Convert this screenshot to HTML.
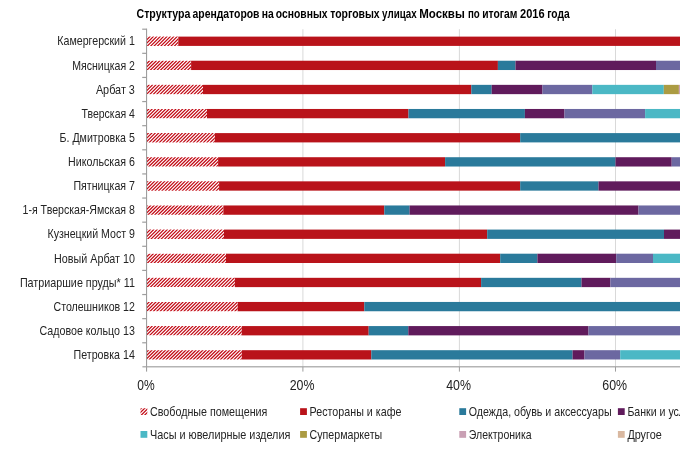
<!DOCTYPE html>
<html lang="ru"><head><meta charset="utf-8"><title>Структура арендаторов</title>
<style>html,body{margin:0;padding:0;background:#fff}svg{display:block}text{font-family:"Liberation Sans",sans-serif;fill:#242424}</style></head><body>
<svg width="700" height="451" viewBox="0 0 700 451">
<defs><clipPath id="c"><rect x="0" y="0" width="680" height="451"/></clipPath></defs>
<rect width="700" height="451" fill="#fff"/>
<g clip-path="url(#c)">
<rect x="302.4" y="29.2" width="1" height="337.7" fill="#d9d9d9"/>
<rect x="458.9" y="29.2" width="1" height="337.7" fill="#d9d9d9"/>
<rect x="615.0" y="29.2" width="1" height="337.7" fill="#d9d9d9"/>
<clipPath id="k0"><rect x="146.8" y="36.61" width="31.5" height="9.3"/></clipPath>
<path clip-path="url(#k0)" d="M136.76 46.41l10.3 -10.3M140.15 46.41l10.3 -10.3M143.54 46.41l10.3 -10.3M146.93 46.41l10.3 -10.3M150.33 46.41l10.3 -10.3M153.72 46.41l10.3 -10.3M157.11 46.41l10.3 -10.3M160.50 46.41l10.3 -10.3M163.89 46.41l10.3 -10.3M167.29 46.41l10.3 -10.3M170.68 46.41l10.3 -10.3M174.07 46.41l10.3 -10.3M177.46 46.41l10.3 -10.3" stroke="#c20c17" stroke-width="1.25" fill="none"/>
<rect x="178.3" y="36.61" width="501.7" height="9.3" fill="#b9131a"/>
<clipPath id="k1"><rect x="146.8" y="60.73" width="44.3" height="9.3"/></clipPath>
<path clip-path="url(#k1)" d="M139.77 70.53l10.3 -10.3M143.16 70.53l10.3 -10.3M146.56 70.53l10.3 -10.3M149.95 70.53l10.3 -10.3M153.34 70.53l10.3 -10.3M156.73 70.53l10.3 -10.3M160.12 70.53l10.3 -10.3M163.52 70.53l10.3 -10.3M166.91 70.53l10.3 -10.3M170.30 70.53l10.3 -10.3M173.69 70.53l10.3 -10.3M177.08 70.53l10.3 -10.3M180.48 70.53l10.3 -10.3M183.87 70.53l10.3 -10.3M187.26 70.53l10.3 -10.3M190.65 70.53l10.3 -10.3" stroke="#c20c17" stroke-width="1.25" fill="none"/>
<rect x="191.1" y="60.73" width="306.8" height="9.3" fill="#b9131a"/>
<rect x="497.9" y="60.73" width="17.6" height="9.3" fill="#2a7a9b"/>
<rect x="515.5" y="60.73" width="140.5" height="9.3" fill="#601b5c"/>
<rect x="656.0" y="60.73" width="24.0" height="9.3" fill="#6c68a1"/>
<clipPath id="k2"><rect x="146.8" y="84.85" width="56.2" height="9.3"/></clipPath>
<path clip-path="url(#k2)" d="M139.39 94.65l10.3 -10.3M142.79 94.65l10.3 -10.3M146.18 94.65l10.3 -10.3M149.57 94.65l10.3 -10.3M152.96 94.65l10.3 -10.3M156.35 94.65l10.3 -10.3M159.75 94.65l10.3 -10.3M163.14 94.65l10.3 -10.3M166.53 94.65l10.3 -10.3M169.92 94.65l10.3 -10.3M173.31 94.65l10.3 -10.3M176.71 94.65l10.3 -10.3M180.10 94.65l10.3 -10.3M183.49 94.65l10.3 -10.3M186.88 94.65l10.3 -10.3M190.27 94.65l10.3 -10.3M193.67 94.65l10.3 -10.3M197.06 94.65l10.3 -10.3M200.45 94.65l10.3 -10.3M203.84 94.65l10.3 -10.3" stroke="#c20c17" stroke-width="1.25" fill="none"/>
<rect x="203.0" y="84.85" width="268.3" height="9.3" fill="#b9131a"/>
<rect x="471.3" y="84.85" width="20.4" height="9.3" fill="#2a7a9b"/>
<rect x="491.7" y="84.85" width="50.8" height="9.3" fill="#601b5c"/>
<rect x="542.5" y="84.85" width="49.8" height="9.3" fill="#6c68a1"/>
<rect x="592.3" y="84.85" width="71.5" height="9.3" fill="#4bb8c5"/>
<rect x="663.8" y="84.85" width="15.1" height="9.3" fill="#ab9b42"/>
<rect x="678.9" y="84.85" width="1.1" height="9.3" fill="#c9a0b4"/>
<clipPath id="k3"><rect x="146.8" y="108.97" width="60.2" height="9.3"/></clipPath>
<path clip-path="url(#k3)" d="M139.02 118.77l10.3 -10.3M142.41 118.77l10.3 -10.3M145.80 118.77l10.3 -10.3M149.19 118.77l10.3 -10.3M152.59 118.77l10.3 -10.3M155.98 118.77l10.3 -10.3M159.37 118.77l10.3 -10.3M162.76 118.77l10.3 -10.3M166.15 118.77l10.3 -10.3M169.55 118.77l10.3 -10.3M172.94 118.77l10.3 -10.3M176.33 118.77l10.3 -10.3M179.72 118.77l10.3 -10.3M183.11 118.77l10.3 -10.3M186.50 118.77l10.3 -10.3M189.90 118.77l10.3 -10.3M193.29 118.77l10.3 -10.3M196.68 118.77l10.3 -10.3M200.07 118.77l10.3 -10.3M203.46 118.77l10.3 -10.3M206.86 118.77l10.3 -10.3" stroke="#c20c17" stroke-width="1.25" fill="none"/>
<rect x="207.0" y="108.97" width="201.5" height="9.3" fill="#b9131a"/>
<rect x="408.5" y="108.97" width="116.4" height="9.3" fill="#2a7a9b"/>
<rect x="524.9" y="108.97" width="39.6" height="9.3" fill="#601b5c"/>
<rect x="564.5" y="108.97" width="80.6" height="9.3" fill="#6c68a1"/>
<rect x="645.1" y="108.97" width="34.9" height="9.3" fill="#4bb8c5"/>
<clipPath id="k4"><rect x="146.8" y="133.10" width="68.1" height="9.3"/></clipPath>
<path clip-path="url(#k4)" d="M138.64 142.90l10.3 -10.3M142.03 142.90l10.3 -10.3M145.42 142.90l10.3 -10.3M148.82 142.90l10.3 -10.3M152.21 142.90l10.3 -10.3M155.60 142.90l10.3 -10.3M158.99 142.90l10.3 -10.3M162.38 142.90l10.3 -10.3M165.78 142.90l10.3 -10.3M169.17 142.90l10.3 -10.3M172.56 142.90l10.3 -10.3M175.95 142.90l10.3 -10.3M179.34 142.90l10.3 -10.3M182.74 142.90l10.3 -10.3M186.13 142.90l10.3 -10.3M189.52 142.90l10.3 -10.3M192.91 142.90l10.3 -10.3M196.30 142.90l10.3 -10.3M199.70 142.90l10.3 -10.3M203.09 142.90l10.3 -10.3M206.48 142.90l10.3 -10.3M209.87 142.90l10.3 -10.3M213.26 142.90l10.3 -10.3" stroke="#c20c17" stroke-width="1.25" fill="none"/>
<rect x="214.9" y="133.10" width="305.3" height="9.3" fill="#b9131a"/>
<rect x="520.2" y="133.10" width="159.8" height="9.3" fill="#2a7a9b"/>
<clipPath id="k5"><rect x="146.8" y="157.22" width="71.3" height="9.3"/></clipPath>
<path clip-path="url(#k5)" d="M138.26 167.02l10.3 -10.3M141.65 167.02l10.3 -10.3M145.05 167.02l10.3 -10.3M148.44 167.02l10.3 -10.3M151.83 167.02l10.3 -10.3M155.22 167.02l10.3 -10.3M158.61 167.02l10.3 -10.3M162.01 167.02l10.3 -10.3M165.40 167.02l10.3 -10.3M168.79 167.02l10.3 -10.3M172.18 167.02l10.3 -10.3M175.57 167.02l10.3 -10.3M178.97 167.02l10.3 -10.3M182.36 167.02l10.3 -10.3M185.75 167.02l10.3 -10.3M189.14 167.02l10.3 -10.3M192.53 167.02l10.3 -10.3M195.93 167.02l10.3 -10.3M199.32 167.02l10.3 -10.3M202.71 167.02l10.3 -10.3M206.10 167.02l10.3 -10.3M209.49 167.02l10.3 -10.3M212.89 167.02l10.3 -10.3M216.28 167.02l10.3 -10.3" stroke="#c20c17" stroke-width="1.25" fill="none"/>
<rect x="218.1" y="157.22" width="227.0" height="9.3" fill="#b9131a"/>
<rect x="445.1" y="157.22" width="170.4" height="9.3" fill="#2a7a9b"/>
<rect x="615.5" y="157.22" width="56.2" height="9.3" fill="#601b5c"/>
<rect x="671.7" y="157.22" width="8.3" height="9.3" fill="#6c68a1"/>
<clipPath id="k6"><rect x="146.8" y="181.34" width="72.3" height="9.3"/></clipPath>
<path clip-path="url(#k6)" d="M137.88 191.14l10.3 -10.3M141.28 191.14l10.3 -10.3M144.67 191.14l10.3 -10.3M148.06 191.14l10.3 -10.3M151.45 191.14l10.3 -10.3M154.84 191.14l10.3 -10.3M158.24 191.14l10.3 -10.3M161.63 191.14l10.3 -10.3M165.02 191.14l10.3 -10.3M168.41 191.14l10.3 -10.3M171.80 191.14l10.3 -10.3M175.20 191.14l10.3 -10.3M178.59 191.14l10.3 -10.3M181.98 191.14l10.3 -10.3M185.37 191.14l10.3 -10.3M188.76 191.14l10.3 -10.3M192.16 191.14l10.3 -10.3M195.55 191.14l10.3 -10.3M198.94 191.14l10.3 -10.3M202.33 191.14l10.3 -10.3M205.72 191.14l10.3 -10.3M209.12 191.14l10.3 -10.3M212.51 191.14l10.3 -10.3M215.90 191.14l10.3 -10.3M219.29 191.14l10.3 -10.3" stroke="#c20c17" stroke-width="1.25" fill="none"/>
<rect x="219.1" y="181.34" width="301.1" height="9.3" fill="#b9131a"/>
<rect x="520.2" y="181.34" width="78.3" height="9.3" fill="#2a7a9b"/>
<rect x="598.5" y="181.34" width="81.5" height="9.3" fill="#601b5c"/>
<clipPath id="k7"><rect x="146.8" y="205.46" width="76.6" height="9.3"/></clipPath>
<path clip-path="url(#k7)" d="M137.51 215.26l10.3 -10.3M140.90 215.26l10.3 -10.3M144.29 215.26l10.3 -10.3M147.68 215.26l10.3 -10.3M151.08 215.26l10.3 -10.3M154.47 215.26l10.3 -10.3M157.86 215.26l10.3 -10.3M161.25 215.26l10.3 -10.3M164.64 215.26l10.3 -10.3M168.04 215.26l10.3 -10.3M171.43 215.26l10.3 -10.3M174.82 215.26l10.3 -10.3M178.21 215.26l10.3 -10.3M181.60 215.26l10.3 -10.3M185.00 215.26l10.3 -10.3M188.39 215.26l10.3 -10.3M191.78 215.26l10.3 -10.3M195.17 215.26l10.3 -10.3M198.56 215.26l10.3 -10.3M201.96 215.26l10.3 -10.3M205.35 215.26l10.3 -10.3M208.74 215.26l10.3 -10.3M212.13 215.26l10.3 -10.3M215.52 215.26l10.3 -10.3M218.92 215.26l10.3 -10.3M222.31 215.26l10.3 -10.3" stroke="#c20c17" stroke-width="1.25" fill="none"/>
<rect x="223.4" y="205.46" width="160.9" height="9.3" fill="#b9131a"/>
<rect x="384.3" y="205.46" width="25.3" height="9.3" fill="#2a7a9b"/>
<rect x="409.6" y="205.46" width="228.9" height="9.3" fill="#601b5c"/>
<rect x="638.5" y="205.46" width="41.5" height="9.3" fill="#6c68a1"/>
<clipPath id="k8"><rect x="146.8" y="229.58" width="77.2" height="9.3"/></clipPath>
<path clip-path="url(#k8)" d="M137.13 239.38l10.3 -10.3M140.52 239.38l10.3 -10.3M143.91 239.38l10.3 -10.3M147.31 239.38l10.3 -10.3M150.70 239.38l10.3 -10.3M154.09 239.38l10.3 -10.3M157.48 239.38l10.3 -10.3M160.87 239.38l10.3 -10.3M164.27 239.38l10.3 -10.3M167.66 239.38l10.3 -10.3M171.05 239.38l10.3 -10.3M174.44 239.38l10.3 -10.3M177.83 239.38l10.3 -10.3M181.23 239.38l10.3 -10.3M184.62 239.38l10.3 -10.3M188.01 239.38l10.3 -10.3M191.40 239.38l10.3 -10.3M194.79 239.38l10.3 -10.3M198.19 239.38l10.3 -10.3M201.58 239.38l10.3 -10.3M204.97 239.38l10.3 -10.3M208.36 239.38l10.3 -10.3M211.75 239.38l10.3 -10.3M215.15 239.38l10.3 -10.3M218.54 239.38l10.3 -10.3M221.93 239.38l10.3 -10.3" stroke="#c20c17" stroke-width="1.25" fill="none"/>
<rect x="224.0" y="229.58" width="263.2" height="9.3" fill="#b9131a"/>
<rect x="487.2" y="229.58" width="176.8" height="9.3" fill="#2a7a9b"/>
<rect x="664.0" y="229.58" width="16.0" height="9.3" fill="#601b5c"/>
<clipPath id="k9"><rect x="146.8" y="253.70" width="79.2" height="9.3"/></clipPath>
<path clip-path="url(#k9)" d="M136.75 263.50l10.3 -10.3M140.14 263.50l10.3 -10.3M143.54 263.50l10.3 -10.3M146.93 263.50l10.3 -10.3M150.32 263.50l10.3 -10.3M153.71 263.50l10.3 -10.3M157.10 263.50l10.3 -10.3M160.50 263.50l10.3 -10.3M163.89 263.50l10.3 -10.3M167.28 263.50l10.3 -10.3M170.67 263.50l10.3 -10.3M174.06 263.50l10.3 -10.3M177.46 263.50l10.3 -10.3M180.85 263.50l10.3 -10.3M184.24 263.50l10.3 -10.3M187.63 263.50l10.3 -10.3M191.02 263.50l10.3 -10.3M194.42 263.50l10.3 -10.3M197.81 263.50l10.3 -10.3M201.20 263.50l10.3 -10.3M204.59 263.50l10.3 -10.3M207.98 263.50l10.3 -10.3M211.38 263.50l10.3 -10.3M214.77 263.50l10.3 -10.3M218.16 263.50l10.3 -10.3M221.55 263.50l10.3 -10.3M224.94 263.50l10.3 -10.3" stroke="#c20c17" stroke-width="1.25" fill="none"/>
<rect x="226.0" y="253.70" width="274.2" height="9.3" fill="#b9131a"/>
<rect x="500.2" y="253.70" width="37.2" height="9.3" fill="#2a7a9b"/>
<rect x="537.4" y="253.70" width="78.8" height="9.3" fill="#601b5c"/>
<rect x="616.2" y="253.70" width="36.8" height="9.3" fill="#6c68a1"/>
<rect x="653.0" y="253.70" width="27.0" height="9.3" fill="#4bb8c5"/>
<clipPath id="k10"><rect x="146.8" y="277.82" width="88.1" height="9.3"/></clipPath>
<path clip-path="url(#k10)" d="M139.77 287.62l10.3 -10.3M143.16 287.62l10.3 -10.3M146.55 287.62l10.3 -10.3M149.94 287.62l10.3 -10.3M153.34 287.62l10.3 -10.3M156.73 287.62l10.3 -10.3M160.12 287.62l10.3 -10.3M163.51 287.62l10.3 -10.3M166.90 287.62l10.3 -10.3M170.29 287.62l10.3 -10.3M173.69 287.62l10.3 -10.3M177.08 287.62l10.3 -10.3M180.47 287.62l10.3 -10.3M183.86 287.62l10.3 -10.3M187.25 287.62l10.3 -10.3M190.65 287.62l10.3 -10.3M194.04 287.62l10.3 -10.3M197.43 287.62l10.3 -10.3M200.82 287.62l10.3 -10.3M204.21 287.62l10.3 -10.3M207.61 287.62l10.3 -10.3M211.00 287.62l10.3 -10.3M214.39 287.62l10.3 -10.3M217.78 287.62l10.3 -10.3M221.17 287.62l10.3 -10.3M224.57 287.62l10.3 -10.3M227.96 287.62l10.3 -10.3M231.35 287.62l10.3 -10.3M234.74 287.62l10.3 -10.3" stroke="#c20c17" stroke-width="1.25" fill="none"/>
<rect x="234.9" y="277.82" width="246.2" height="9.3" fill="#b9131a"/>
<rect x="481.1" y="277.82" width="100.4" height="9.3" fill="#2a7a9b"/>
<rect x="581.5" y="277.82" width="28.9" height="9.3" fill="#601b5c"/>
<rect x="610.4" y="277.82" width="69.6" height="9.3" fill="#6c68a1"/>
<clipPath id="k11"><rect x="146.8" y="301.95" width="90.9" height="9.3"/></clipPath>
<path clip-path="url(#k11)" d="M139.39 311.75l10.3 -10.3M142.78 311.75l10.3 -10.3M146.17 311.75l10.3 -10.3M149.57 311.75l10.3 -10.3M152.96 311.75l10.3 -10.3M156.35 311.75l10.3 -10.3M159.74 311.75l10.3 -10.3M163.13 311.75l10.3 -10.3M166.53 311.75l10.3 -10.3M169.92 311.75l10.3 -10.3M173.31 311.75l10.3 -10.3M176.70 311.75l10.3 -10.3M180.09 311.75l10.3 -10.3M183.49 311.75l10.3 -10.3M186.88 311.75l10.3 -10.3M190.27 311.75l10.3 -10.3M193.66 311.75l10.3 -10.3M197.05 311.75l10.3 -10.3M200.45 311.75l10.3 -10.3M203.84 311.75l10.3 -10.3M207.23 311.75l10.3 -10.3M210.62 311.75l10.3 -10.3M214.01 311.75l10.3 -10.3M217.41 311.75l10.3 -10.3M220.80 311.75l10.3 -10.3M224.19 311.75l10.3 -10.3M227.58 311.75l10.3 -10.3M230.97 311.75l10.3 -10.3M234.37 311.75l10.3 -10.3M237.76 311.75l10.3 -10.3" stroke="#c20c17" stroke-width="1.25" fill="none"/>
<rect x="237.7" y="301.95" width="126.6" height="9.3" fill="#b9131a"/>
<rect x="364.3" y="301.95" width="315.7" height="9.3" fill="#2a7a9b"/>
<clipPath id="k12"><rect x="146.8" y="326.07" width="95.0" height="9.3"/></clipPath>
<path clip-path="url(#k12)" d="M139.01 335.87l10.3 -10.3M142.40 335.87l10.3 -10.3M145.80 335.87l10.3 -10.3M149.19 335.87l10.3 -10.3M152.58 335.87l10.3 -10.3M155.97 335.87l10.3 -10.3M159.36 335.87l10.3 -10.3M162.76 335.87l10.3 -10.3M166.15 335.87l10.3 -10.3M169.54 335.87l10.3 -10.3M172.93 335.87l10.3 -10.3M176.32 335.87l10.3 -10.3M179.72 335.87l10.3 -10.3M183.11 335.87l10.3 -10.3M186.50 335.87l10.3 -10.3M189.89 335.87l10.3 -10.3M193.28 335.87l10.3 -10.3M196.68 335.87l10.3 -10.3M200.07 335.87l10.3 -10.3M203.46 335.87l10.3 -10.3M206.85 335.87l10.3 -10.3M210.24 335.87l10.3 -10.3M213.64 335.87l10.3 -10.3M217.03 335.87l10.3 -10.3M220.42 335.87l10.3 -10.3M223.81 335.87l10.3 -10.3M227.20 335.87l10.3 -10.3M230.60 335.87l10.3 -10.3M233.99 335.87l10.3 -10.3M237.38 335.87l10.3 -10.3M240.77 335.87l10.3 -10.3" stroke="#c20c17" stroke-width="1.25" fill="none"/>
<rect x="241.8" y="326.07" width="126.9" height="9.3" fill="#b9131a"/>
<rect x="368.7" y="326.07" width="39.6" height="9.3" fill="#2a7a9b"/>
<rect x="408.3" y="326.07" width="180.2" height="9.3" fill="#601b5c"/>
<rect x="588.5" y="326.07" width="91.5" height="9.3" fill="#6c68a1"/>
<clipPath id="k13"><rect x="146.8" y="350.19" width="95.0" height="9.3"/></clipPath>
<path clip-path="url(#k13)" d="M138.63 359.99l10.3 -10.3M142.03 359.99l10.3 -10.3M145.42 359.99l10.3 -10.3M148.81 359.99l10.3 -10.3M152.20 359.99l10.3 -10.3M155.59 359.99l10.3 -10.3M158.99 359.99l10.3 -10.3M162.38 359.99l10.3 -10.3M165.77 359.99l10.3 -10.3M169.16 359.99l10.3 -10.3M172.55 359.99l10.3 -10.3M175.95 359.99l10.3 -10.3M179.34 359.99l10.3 -10.3M182.73 359.99l10.3 -10.3M186.12 359.99l10.3 -10.3M189.51 359.99l10.3 -10.3M192.91 359.99l10.3 -10.3M196.30 359.99l10.3 -10.3M199.69 359.99l10.3 -10.3M203.08 359.99l10.3 -10.3M206.47 359.99l10.3 -10.3M209.87 359.99l10.3 -10.3M213.26 359.99l10.3 -10.3M216.65 359.99l10.3 -10.3M220.04 359.99l10.3 -10.3M223.43 359.99l10.3 -10.3M226.83 359.99l10.3 -10.3M230.22 359.99l10.3 -10.3M233.61 359.99l10.3 -10.3M237.00 359.99l10.3 -10.3M240.39 359.99l10.3 -10.3" stroke="#c20c17" stroke-width="1.25" fill="none"/>
<rect x="241.8" y="350.19" width="129.5" height="9.3" fill="#b9131a"/>
<rect x="371.3" y="350.19" width="201.3" height="9.3" fill="#2a7a9b"/>
<rect x="572.6" y="350.19" width="11.9" height="9.3" fill="#601b5c"/>
<rect x="584.5" y="350.19" width="35.7" height="9.3" fill="#6c68a1"/>
<rect x="620.2" y="350.19" width="59.8" height="9.3" fill="#4bb8c5"/>
<rect x="146.0" y="28.7" width="1.1" height="342.9" fill="#9e9e9e"/>
<rect x="142.4" y="366.2" width="537.6" height="1.2" fill="#a2a2a2"/>
<rect x="142.2" y="28.60" width="4.6" height="1.2" fill="#9e9e9e"/>
<rect x="142.2" y="52.72" width="4.6" height="1.2" fill="#9e9e9e"/>
<rect x="142.2" y="76.84" width="4.6" height="1.2" fill="#9e9e9e"/>
<rect x="142.2" y="100.96" width="4.6" height="1.2" fill="#9e9e9e"/>
<rect x="142.2" y="125.09" width="4.6" height="1.2" fill="#9e9e9e"/>
<rect x="142.2" y="149.21" width="4.6" height="1.2" fill="#9e9e9e"/>
<rect x="142.2" y="173.33" width="4.6" height="1.2" fill="#9e9e9e"/>
<rect x="142.2" y="197.45" width="4.6" height="1.2" fill="#9e9e9e"/>
<rect x="142.2" y="221.57" width="4.6" height="1.2" fill="#9e9e9e"/>
<rect x="142.2" y="245.69" width="4.6" height="1.2" fill="#9e9e9e"/>
<rect x="142.2" y="269.81" width="4.6" height="1.2" fill="#9e9e9e"/>
<rect x="142.2" y="293.94" width="4.6" height="1.2" fill="#9e9e9e"/>
<rect x="142.2" y="318.06" width="4.6" height="1.2" fill="#9e9e9e"/>
<rect x="142.2" y="342.18" width="4.6" height="1.2" fill="#9e9e9e"/>
<rect x="302.4" y="366.9" width="1" height="4.7" fill="#9e9e9e"/>
<rect x="458.9" y="366.9" width="1" height="4.7" fill="#9e9e9e"/>
<rect x="615.0" y="366.9" width="1" height="4.7" fill="#9e9e9e"/>
<text y="18.4" font-size="12.6" font-weight="bold" style="fill:#000"><tspan x="136.5" textLength="54.0" lengthAdjust="spacingAndGlyphs">Структура</tspan> <tspan x="192.5" textLength="67.0" lengthAdjust="spacingAndGlyphs">арендаторов</tspan> <tspan x="261.7" textLength="12.0" lengthAdjust="spacingAndGlyphs">на</tspan> <tspan x="275.8" textLength="51.7" lengthAdjust="spacingAndGlyphs">основных</tspan> <tspan x="330.2" textLength="49.5" lengthAdjust="spacingAndGlyphs">торговых</tspan> <tspan x="382.1" textLength="34.6" lengthAdjust="spacingAndGlyphs">улицах</tspan> <tspan x="419.2" textLength="45.6" lengthAdjust="spacingAndGlyphs">Москвы</tspan> <tspan x="467.9" textLength="11.8" lengthAdjust="spacingAndGlyphs">по</tspan> <tspan x="482.3" textLength="35.1" lengthAdjust="spacingAndGlyphs">итогам</tspan> <tspan x="520.0" textLength="24.6" lengthAdjust="spacingAndGlyphs">2016</tspan> <tspan x="547.2" textLength="22.5" lengthAdjust="spacingAndGlyphs">года</tspan></text>
<text x="57.3" y="45.41" font-size="13" textLength="77.6" lengthAdjust="spacingAndGlyphs">Камергерский 1</text>
<text x="72.2" y="69.53" font-size="13" textLength="62.7" lengthAdjust="spacingAndGlyphs">Мясницкая 2</text>
<text x="95.9" y="93.65" font-size="13" textLength="39.0" lengthAdjust="spacingAndGlyphs">Арбат 3</text>
<text x="81.5" y="117.78" font-size="13" textLength="53.4" lengthAdjust="spacingAndGlyphs">Тверская 4</text>
<text x="59.5" y="141.90" font-size="13" textLength="75.4" lengthAdjust="spacingAndGlyphs">Б. Дмитровка 5</text>
<text x="68.1" y="166.02" font-size="13" textLength="66.8" lengthAdjust="spacingAndGlyphs">Никольская 6</text>
<text x="73.5" y="190.14" font-size="13" textLength="61.4" lengthAdjust="spacingAndGlyphs">Пятницкая 7</text>
<text x="22.5" y="214.26" font-size="13" textLength="112.4" lengthAdjust="spacingAndGlyphs">1-я Тверская-Ямская 8</text>
<text x="47.5" y="238.38" font-size="13" textLength="87.4" lengthAdjust="spacingAndGlyphs">Кузнецкий Мост 9</text>
<text x="54.1" y="262.50" font-size="13" textLength="80.8" lengthAdjust="spacingAndGlyphs">Новый Арбат 10</text>
<text x="19.9" y="286.62" font-size="13" textLength="115.0" lengthAdjust="spacingAndGlyphs">Патриаршие пруды* 11</text>
<text x="53.5" y="310.75" font-size="13" textLength="81.4" lengthAdjust="spacingAndGlyphs">Столешников 12</text>
<text x="39.5" y="334.87" font-size="13" textLength="95.4" lengthAdjust="spacingAndGlyphs">Садовое кольцо 13</text>
<text x="73.5" y="358.99" font-size="13" textLength="61.4" lengthAdjust="spacingAndGlyphs">Петровка 14</text>
<text x="137.2" y="390" font-size="15.5" textLength="17.4" lengthAdjust="spacingAndGlyphs">0%</text>
<text x="289.7" y="390" font-size="15.5" textLength="24.8" lengthAdjust="spacingAndGlyphs">20%</text>
<text x="446.2" y="390" font-size="15.5" textLength="24.8" lengthAdjust="spacingAndGlyphs">40%</text>
<text x="602.3" y="390" font-size="15.5" textLength="24.8" lengthAdjust="spacingAndGlyphs">60%</text>
<clipPath id="kl"><rect x="140.5" y="408.2" width="6.8" height="6.8"/></clipPath>
<path clip-path="url(#kl)" d="M134.10 415.50l8 -8M137.49 415.50l8 -8M140.88 415.50l8 -8M144.28 415.50l8 -8M147.67 415.50l8 -8" stroke="#c20c17" stroke-width="1.25" fill="none"/>
<text x="150.0" y="415.7" font-size="13" textLength="117.4" lengthAdjust="spacingAndGlyphs">Свободные помещения</text>
<rect x="300.1" y="408.2" width="6.8" height="6.8" fill="#b9131a"/>
<text x="309.6" y="415.7" font-size="13" textLength="91.8" lengthAdjust="spacingAndGlyphs">Рестораны и кафе</text>
<rect x="459.3" y="408.2" width="6.8" height="6.8" fill="#2a7a9b"/>
<text x="468.8" y="415.7" font-size="13" textLength="142.8" lengthAdjust="spacingAndGlyphs">Одежда, обувь и аксессуары</text>
<rect x="617.9" y="408.2" width="6.8" height="6.8" fill="#601b5c"/>
<text x="627.4" y="415.7" font-size="13" transform="translate(627.4 0) scale(0.815 1) translate(-627.4 0)">Банки и услуги</text>
<rect x="140.5" y="431.0" width="6.8" height="6.8" fill="#4bb8c5"/>
<text x="150.0" y="438.6" font-size="13" textLength="140.4" lengthAdjust="spacingAndGlyphs">Часы и ювелирные изделия</text>
<rect x="300.1" y="431.0" width="6.8" height="6.8" fill="#ab9b42"/>
<text x="309.6" y="438.6" font-size="13" textLength="72.6" lengthAdjust="spacingAndGlyphs">Супермаркеты</text>
<rect x="459.3" y="431.0" width="6.8" height="6.8" fill="#c9a0b4"/>
<text x="468.8" y="438.6" font-size="13" textLength="62.8" lengthAdjust="spacingAndGlyphs">Электроника</text>
<rect x="617.9" y="431.0" width="6.8" height="6.8" fill="#d9b8a0"/>
<text x="627.4" y="438.6" font-size="13" textLength="34.4" lengthAdjust="spacingAndGlyphs">Другое</text>
</g></svg></body></html>
